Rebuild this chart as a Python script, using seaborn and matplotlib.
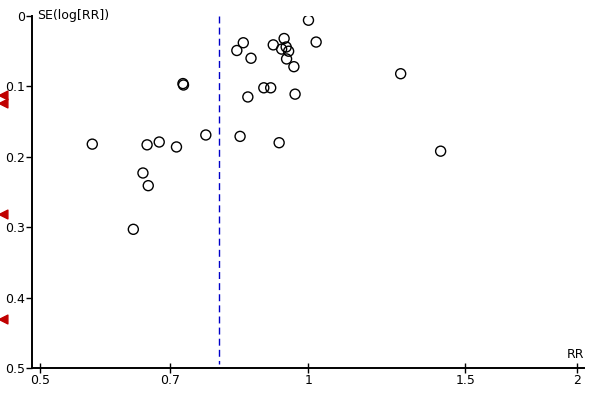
import numpy as np
import pandas as pd
import matplotlib
matplotlib.use("Agg")
import matplotlib.pyplot as plt
import matplotlib.transforms as mtransforms
import seaborn as sns

# Study estimates
rr = [1.000, 1.020, 0.845, 0.831, 0.862, 0.913, 0.939, 0.933, 0.944, 0.950,
      0.945, 0.963, 0.723, 0.724, 0.855, 0.891, 0.907, 0.966, 0.767, 0.838,
      0.927, 0.572, 0.659, 0.680, 0.711, 0.652, 0.661, 0.636, 1.269, 1.407]
se = [0.006, 0.037, 0.038, 0.049, 0.060, 0.041, 0.032, 0.047, 0.044, 0.050,
      0.061, 0.072, 0.096, 0.098, 0.115, 0.102, 0.102, 0.111, 0.169, 0.171,
      0.180, 0.182, 0.183, 0.179, 0.186, 0.223, 0.241, 0.303, 0.082, 0.192]
pooled_rr = 0.794
marker_se = [0.112, 0.124, 0.281, 0.431]
x_ticks = [0.5, 0.7, 1, 1.5, 2]
x_tick_labels = ["0.5", "0.7", "1", "1.5", "2"]
y_ticks = [0, 0.1, 0.2, 0.3, 0.4, 0.5]
y_tick_labels = ["0", "0.1", "0.2", "0.3", "0.4", "0.5"]

df = pd.DataFrame({"RR": rr, "SE": se})

sns.set_style("white")
plt.rcParams["font.family"] = ["DejaVu Sans"]
plt.rcParams["text.color"] = "black"

fig = plt.figure(figsize=(6, 4), dpi=100)
ax = fig.add_axes([0.054, 0.08, 0.92, 0.88])

sns.scatterplot(data=df, x="RR", y="SE", ax=ax, s=52, facecolor="none",
                edgecolor="black", linewidth=1.0, zorder=3, legend=False)

ax.set_xscale("log")
ax.set_xlim(0.49, 2.04)
ax.set_ylim(0.5, 0)

ax.plot([pooled_rr, pooled_rr], [0, 0.495], color="#0000c8", lw=1.0,
        ls=(0, (5, 3)), zorder=2)

trans = mtransforms.blended_transform_factory(ax.transAxes, ax.transData)
ax.scatter([-0.054] * len(marker_se), marker_se, marker="<", s=40,
           color="#c00000", transform=trans, clip_on=False, zorder=4)

ax.set_xticks(x_ticks)
ax.set_xticklabels(x_tick_labels)
ax.xaxis.set_minor_locator(matplotlib.ticker.NullLocator())
ax.set_yticks(y_ticks)
ax.set_yticklabels(y_tick_labels)

for s in ["top", "right"]:
    ax.spines[s].set_visible(False)
for s in ["left", "bottom"]:
    ax.spines[s].set_color("black")
    ax.spines[s].set_linewidth(1.4)

ax.tick_params(axis="x", bottom=True, direction="inout", length=7, width=1.0,
               labelsize=9, pad=1, colors="black")
ax.tick_params(axis="y", left=True, direction="out", length=4, width=1.0,
               labelsize=9, pad=1, colors="black")
ax.set_xlabel("")
ax.set_ylabel("")

ax.text(0.008, 1.0, "SE(log[RR])", transform=ax.transAxes, fontsize=9,
        ha="left", va="center", color="black")
ax.text(1.0, 0.02, "RR", transform=ax.transAxes, fontsize=9,
        ha="right", va="bottom", color="black")

fig.savefig("out.png", dpi=100, facecolor="white")
